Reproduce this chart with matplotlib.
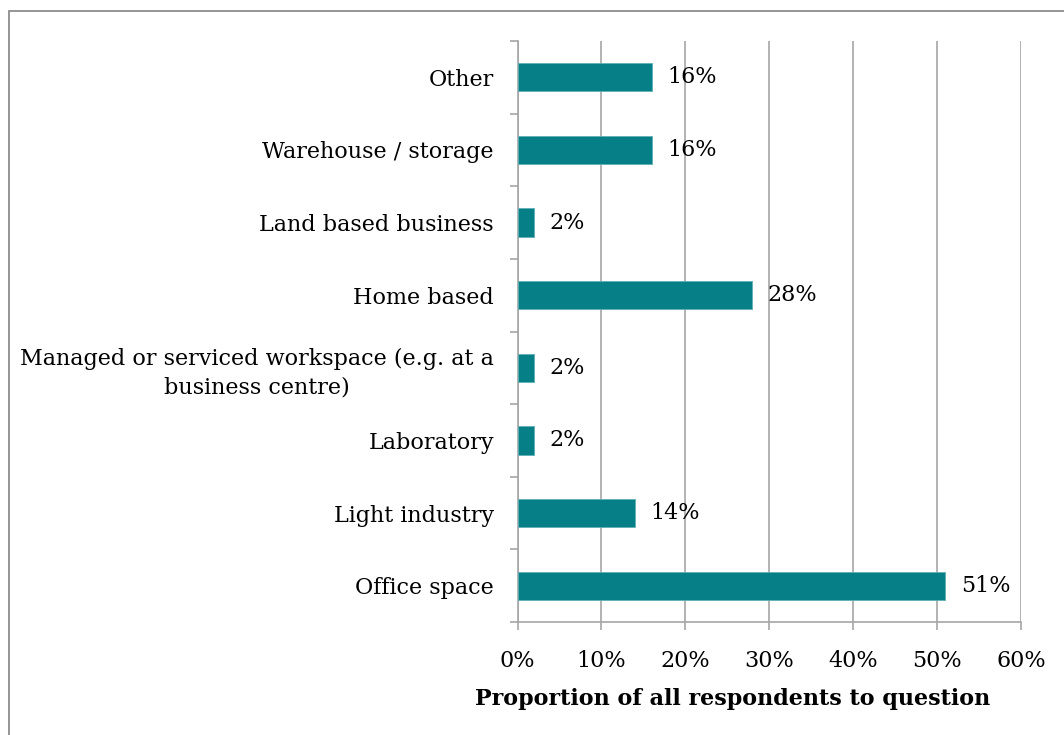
import matplotlib
matplotlib.use("Agg")
import matplotlib.pyplot as plt
from matplotlib.patches import Rectangle
from matplotlib.ticker import FuncFormatter, FixedLocator, NullFormatter

# Workspace types, bottom to top as drawn
categories = [
    "Office space",
    "Light industry",
    "Laboratory",
    "Managed or serviced workspace (e.g. at a\nbusiness centre)",
    "Home based",
    "Land based business",
    "Warehouse / storage",
    "Other",
]
shares = [51, 14, 2, 2, 28, 2, 16, 16]  # percent of respondents
x_ticks = [0, 10, 20, 30, 40, 50, 60]
x_title = "Proportion of all respondents to question"

BAR = "#067f87"
GRID = "#a6a6a6"
FONT = "DejaVu Serif"
FS = 16

plt.rcParams["font.family"] = FONT

fig = plt.figure(figsize=(10.64, 7.35), dpi=100)
W, H = 1064, 735

# outer frame (only top and left edges fall inside the image)
fig.patches.append(Rectangle((9 / W, -0.1), 1.2, 1 - 11 / H + 0.1,
                             transform=fig.transFigure, fill=False,
                             edgecolor="#8c8c8c", linewidth=1.3))

ax = fig.add_axes([517.5 / W, 1 - 622 / H, (1021 - 517.5) / W, (622 - 41) / H])

ypos = list(range(len(categories)))
ax.barh(ypos, shares, height=0.39, color=BAR, edgecolor="#5fb0b6",
        linewidth=0.6, zorder=3)

for y, v in zip(ypos, shares):
    ax.annotate(f"{v}%", xy=(v, y), xytext=(11, 0), textcoords="offset points",
                ha="left", va="center", fontsize=FS, color="black", zorder=4)

ax.set_xlim(0, 60)
ax.set_ylim(-0.5, len(categories) - 0.5)
ax.set_xticks(x_ticks)
ax.xaxis.set_major_formatter(FuncFormatter(lambda v, p: f"{v:.0f}%"))

# category labels centred on bars, ticks on band boundaries
ax.set_yticks(ypos)
ax.set_yticklabels(categories, fontsize=FS, ha="right", multialignment="center",
                   linespacing=1.35)
ax.tick_params(axis="y", which="major", length=0, pad=17)
ax.yaxis.set_minor_locator(FixedLocator([i - 0.5 for i in range(len(categories) + 1)]))
ax.yaxis.set_minor_formatter(NullFormatter())
ax.tick_params(axis="y", which="minor", length=6, width=1.2, color=GRID, direction="out")
ax.tick_params(axis="x", length=6, width=1.2, color=GRID, labelsize=FS, pad=14)

ax.grid(axis="x", color=GRID, linewidth=1.2, zorder=0)
ax.set_axisbelow(True)
for s in ["top", "right"]:
    ax.spines[s].set_visible(False)
for s in ["left", "bottom"]:
    ax.spines[s].set_color(GRID)
    ax.spines[s].set_linewidth(1.2)

fig.text(733 / W, 1 - 699 / H, x_title, ha="center", va="center",
         fontsize=FS, fontweight="bold")

fig.savefig("out.png", dpi=100, facecolor="white")
